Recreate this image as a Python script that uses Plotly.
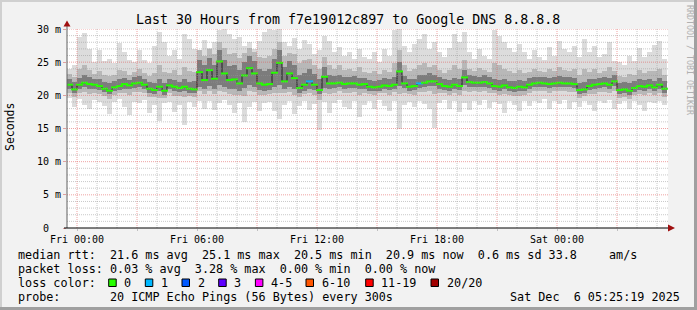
import plotly.graph_objects as go
import pandas as pd

# ---------------- data (ms), 15-minute bins starting Thu 23:30 ----------------
median = [
    21.6, 20.9, 21.6, 21.9, 21.7, 21.6, 21.4, 21.0, 20.7, 21.2,
    21.4, 21.7, 21.5, 21.8, 21.9, 21.6, 21.0, 20.8, 21.3, 20.7,
    21.5, 21.3, 21.1, 21.3, 21.0, 20.9, 23.5, 22.3, 23.8, 22.5,
    25.1, 23.3, 22.3, 22.4, 21.8, 23.0, 24.1, 23.3, 21.8, 21.6,
    21.7, 23.4, 24.9, 22.1, 23.3, 22.6, 21.1, 21.6, 22.1, 21.6,
    20.8, 22.8, 21.8, 21.8, 21.9, 21.7, 21.8, 21.8, 21.6, 21.7,
    21.3, 21.2, 21.3, 21.5, 21.4, 21.6, 23.6, 21.8, 21.3, 21.4,
    21.8, 21.9, 22.1, 22.1, 21.7, 21.4, 21.3, 21.6, 21.4, 22.7,
    22.0, 21.9, 21.9, 22.0, 21.8, 21.4, 21.3, 21.5, 21.2, 21.1,
    21.3, 21.2, 21.6, 21.8, 21.9, 21.8, 21.7, 21.8, 21.9, 21.8,
    21.8, 21.7, 20.8, 20.9, 21.4, 21.6, 21.7, 21.8, 21.6, 22.1,
    20.8, 20.9, 20.7, 21.1, 21.4, 21.3, 21.5, 21.2, 21.6, 21.0,
]
ping_max = [
    24.0, 24.5, 28.8, 29.4, 27.0, 25.0, 26.8, 25.2, 25.5, 24.8,
    27.9, 26.5, 25.3, 25.0, 26.8, 25.3, 24.8, 27.5, 29.6, 28.0,
    26.0, 26.8, 25.5, 29.3, 28.5, 27.0, 26.8, 28.3, 27.2, 28.0,
    29.8, 30.0, 29.2, 28.5, 28.8, 27.4, 28.0, 27.0, 28.2, 29.5,
    30.0, 29.8, 30.0, 28.0, 27.5, 28.6, 27.0, 28.3, 27.8, 26.2,
    26.8, 29.0, 28.2, 26.5, 27.3, 26.0, 26.6, 25.5, 27.0, 25.8,
    25.5, 26.5, 25.0, 27.0, 26.0, 29.9, 30.0, 27.5, 26.5, 27.8,
    28.5, 29.3, 27.0, 28.0, 26.5, 25.8, 27.2, 29.3, 28.0, 29.6,
    26.5, 25.5, 27.0, 26.0, 25.5, 29.8, 29.0, 28.0, 27.2, 26.5,
    27.8, 26.5, 25.5, 26.8, 25.8, 25.3, 27.3, 26.0, 28.2, 27.0,
    26.5, 27.5, 25.8, 28.5, 26.6, 27.5, 25.8, 26.2, 28.0, 25.2,
    25.0, 24.6, 26.0, 25.2, 27.2, 25.8, 26.5, 27.6, 28.2, 25.5,
]
ping_p90 = [
    23.2, 22.8, 24.0, 24.6, 23.8, 23.2, 23.6, 23.0, 22.9, 23.1,
    23.8, 23.6, 23.1, 23.5, 24.0, 23.3, 22.9, 23.4, 24.6, 23.5,
    23.4, 23.8, 23.0, 24.2, 23.6, 23.5, 26.8, 26.0, 27.0, 26.2,
    28.0, 27.2, 26.3, 26.4, 25.6, 26.4, 27.2, 26.5, 25.8, 25.6,
    26.0, 27.0, 28.0, 26.0, 26.4, 26.2, 24.8, 25.4, 25.5, 24.6,
    24.0, 25.8, 24.6, 24.0, 24.5, 23.8, 24.0, 23.6, 24.2, 23.5,
    23.3, 23.6, 23.2, 23.8, 23.5, 24.8, 26.8, 24.5, 23.6, 24.0,
    24.6, 24.8, 24.2, 24.5, 23.8, 23.4, 23.8, 24.6, 24.0, 25.4,
    24.0, 23.6, 24.1, 23.8, 23.5, 24.8, 24.5, 24.0, 23.6, 23.4,
    23.8, 23.4, 23.5, 23.9, 23.6, 23.5, 24.0, 23.6, 24.3, 23.8,
    23.7, 24.0, 23.0, 24.0, 23.5, 23.9, 23.4, 23.6, 24.2, 23.6,
    22.9, 22.8, 23.2, 23.1, 23.8, 23.3, 23.6, 23.7, 24.0, 23.0,
]
ping_q3 = [
    22.4, 22.0, 22.6, 23.0, 22.7, 22.4, 22.5, 22.0, 21.8, 22.2,
    22.5, 22.6, 22.3, 22.8, 22.9, 22.4, 22.0, 21.8, 22.4, 21.9,
    22.4, 22.3, 22.0, 22.5, 22.0, 22.2, 25.4, 24.5, 25.6, 24.6,
    26.8, 25.3, 24.4, 24.6, 23.8, 25.0, 26.0, 25.2, 24.0, 23.6,
    23.9, 25.5, 26.8, 24.3, 25.2, 24.5, 23.0, 23.4, 23.9, 23.2,
    22.5, 24.2, 23.0, 22.9, 23.1, 22.8, 22.7, 22.9, 22.6, 22.6,
    22.3, 22.2, 22.3, 22.6, 22.5, 22.8, 25.0, 22.9, 22.4, 22.5,
    23.0, 23.1, 23.3, 23.0, 22.8, 22.4, 22.3, 22.6, 22.5, 23.8,
    23.0, 22.9, 22.8, 23.0, 22.7, 22.4, 22.3, 22.5, 22.2, 22.1,
    22.3, 22.2, 22.6, 22.7, 22.8, 22.7, 22.6, 22.7, 22.9, 22.7,
    22.7, 22.6, 21.9, 22.0, 22.4, 22.5, 22.6, 22.7, 22.6, 23.0,
    21.9, 22.0, 21.8, 22.2, 22.4, 22.3, 22.5, 22.2, 22.6, 22.1,
]
ping_q1 = [
    21.0, 20.4, 20.9, 21.2, 21.0, 21.0, 20.8, 20.5, 20.2, 20.6,
    20.8, 21.0, 20.9, 21.1, 21.2, 21.0, 20.4, 20.2, 20.6, 20.1,
    20.9, 20.7, 20.5, 20.6, 20.4, 20.4, 21.3, 20.9, 21.4, 21.0,
    21.6, 21.2, 20.9, 21.0, 20.7, 21.1, 21.5, 21.2, 20.8, 20.7,
    20.8, 21.3, 21.6, 21.0, 21.2, 21.0, 20.4, 20.7, 21.0, 20.8,
    20.2, 21.1, 21.0, 21.1, 21.2, 21.0, 21.1, 21.1, 20.9, 21.0,
    20.7, 20.6, 20.7, 20.9, 20.8, 21.0, 21.4, 21.1, 20.7, 20.8,
    21.1, 21.2, 21.4, 21.4, 21.0, 20.8, 20.7, 20.9, 20.8, 21.5,
    21.3, 21.2, 21.2, 21.3, 21.1, 20.8, 20.7, 20.9, 20.6, 20.5,
    20.7, 20.6, 21.0, 21.2, 21.3, 21.2, 21.1, 21.2, 21.3, 21.2,
    21.2, 21.1, 20.2, 20.3, 20.8, 21.0, 21.1, 21.2, 21.0, 21.4,
    20.2, 20.3, 20.1, 20.5, 20.8, 20.7, 20.9, 20.6, 21.0, 20.4,
]
ping_p10 = [
    20.4, 19.8, 20.3, 20.5, 20.2, 20.4, 20.2, 19.9, 19.5, 20.1,
    20.3, 20.3, 20.0, 20.5, 20.5, 20.4, 19.8, 19.7, 19.6, 19.6,
    20.3, 19.9, 19.9, 19.7, 19.9, 19.8, 20.6, 20.2, 20.7, 20.2,
    20.7, 20.5, 20.2, 20.1, 20.0, 19.9, 20.6, 20.5, 20.0, 20.1,
    20.2, 20.4, 20.3, 20.3, 20.5, 20.1, 19.8, 20.2, 20.3, 20.1,
    19.3, 20.4, 20.2, 20.4, 20.6, 20.3, 20.3, 20.5, 20.0, 20.3,
    20.2, 20.0, 20.3, 20.3, 20.1, 20.5, 20.2, 20.4, 20.2, 20.1,
    20.5, 20.5, 20.6, 20.2, 20.4, 20.3, 20.0, 20.4, 20.1, 20.6,
    20.5, 20.6, 20.5, 20.7, 20.4, 20.3, 20.1, 20.2, 20.1, 19.9,
    19.9, 20.1, 20.4, 20.6, 20.6, 20.7, 20.4, 20.6, 20.6, 20.7,
    20.5, 20.5, 19.6, 19.9, 20.2, 20.2, 20.5, 20.5, 20.4, 20.6,
    19.6, 19.8, 19.5, 20.0, 20.2, 20.0, 20.3, 20.0, 20.4, 19.8,
]
ping_min = [
    19.6, 18.3, 19.4, 18.6, 17.9, 19.3, 19.0, 18.4, 17.2, 19.0,
    19.4, 18.2, 17.0, 19.0, 18.8, 19.3, 17.4, 18.5, 16.2, 18.9,
    19.0, 17.5, 18.6, 15.5, 19.0, 18.2, 19.2, 18.0, 19.1, 17.8,
    18.9, 19.3, 18.5, 17.3, 18.9, 16.0, 18.2, 19.0, 17.7, 18.9,
    19.0, 17.6, 16.5, 18.6, 19.1, 17.2, 18.4, 19.2, 17.8, 18.7,
    14.8, 19.0, 17.4, 18.8, 19.3, 18.2, 17.9, 19.2, 16.8, 18.6,
    19.1, 18.0, 19.3, 18.4, 17.6, 19.2, 14.9, 18.6, 19.0, 18.3,
    19.2, 18.7, 17.9, 15.1, 18.8, 19.3, 18.0, 19.1, 17.5, 18.9,
    17.8, 19.2, 18.6, 19.3, 18.1, 19.0, 18.7, 17.4, 19.2, 18.5,
    17.6, 19.1, 18.4, 19.2, 18.8, 19.4, 18.0, 19.1, 18.7, 19.3,
    17.9, 19.0, 18.3, 19.2, 18.6, 17.6, 19.1, 18.8, 19.3, 18.0,
    18.7, 19.1, 17.9, 19.2, 18.5, 17.6, 19.0, 18.8, 19.2, 18.6,
]
loss = [
    0, 0, 0, 0, 0, 0, 0, 0, 0, 0,
    0, 0, 0, 0, 0, 0, 0, 0, 0, 0,
    0, 0, 0, 0, 0, 0, 0, 0, 0, 0,
    0, 0, 0, 0, 0, 0, 0, 0, 0, 0,
    0, 0, 0, 0, 0, 0, 0, 0, 1, 0,
    0, 0, 0, 0, 0, 0, 0, 0, 0, 0,
    0, 0, 0, 0, 0, 0, 0, 0, 0, 0,
    1, 0, 0, 0, 0, 0, 0, 0, 0, 0,
    0, 0, 0, 0, 0, 0, 0, 0, 0, 0,
    0, 0, 0, 0, 0, 0, 0, 0, 0, 0,
    0, 0, 0, 0, 0, 0, 0, 0, 0, 0,
    0, 0, 0, 0, 0, 0, 0, 0, 0, 0,
]

loss_labels = ["0", "1", "2", "3", "4-5", "6-10", "11-19", "20/20"]
loss_colors = ["#26ff00", "#00b8ff", "#0059ff", "#5e00ff", "#ff00ff", "#ff5500", "#ff0000", "#a10000"]

tick_vals = ["2025-12-05 00:00", "2025-12-05 03:00", "2025-12-05 06:00", "2025-12-05 09:00",
             "2025-12-05 12:00", "2025-12-05 15:00", "2025-12-05 18:00", "2025-12-05 21:00",
             "2025-12-06 00:00", "2025-12-06 03:00"]
tick_text = ["Fri 00:00", "", "Fri 06:00", "", "Fri 12:00", "", "Fri 18:00", "", "Sat 00:00", ""]
y_vals = [0, 5, 10, 15, 20, 25, 30]
y_text = ["0\u00a0\u00a0", "5 m", "10 m", "15 m", "20 m", "25 m", "30 m"]

title = "Last 30 Hours from f7e19012c897 to Google DNS 8.8.8.8"
row1 = "median rtt:  21.6 ms avg  25.1 ms max  20.5 ms min  20.9 ms now  0.6 ms sd 33.8"
row1_unit = "am/s"
row2 = "packet loss: 0.03 % avg  3.28 % max  0.00 % min  0.00 % now"
row3 = "loss color:"
row4 = "probe:       20 ICMP Echo Pings (56 Bytes) every 300s"
stamp = "Sat Dec  6 05:25:19 2025"

# ---------------- figure ----------------
W, H = 697, 310
L, R, T, B = 67, 668, 29, 228
PW, PH = R - L, B - T
X0, X1 = "2025-12-04 23:30", "2025-12-06 05:33"
MONO = "DejaVu Sans Mono"

times = pd.date_range("2025-12-04 23:37:30", periods=len(median), freq="15min")
bin_ms = 15 * 60 * 1000


def px(x):
    return (x - L) / PW


def py(y):
    return (B - y) / PH


def nb(s):
    return s.replace(" ", "\u00a0")


fig = go.Figure()
for lo, hi, col in [(ping_min, ping_max, "#dcdcdc"),
                    (ping_p10, ping_p90, "#b8b8b8"),
                    (ping_q1, ping_q3, "#7c7c7c")]:
    fig.add_trace(go.Bar(x=times, y=[h - l for h, l in zip(hi, lo)], base=lo,
                         width=bin_ms, marker=dict(color=col, line=dict(width=0)),
                         hoverinfo="skip"))
fig.add_trace(go.Scatter(x=times, y=median, mode="lines",
                         line=dict(color="#202020", width=1, shape="hvh"), hoverinfo="skip"))
fig.add_trace(go.Scatter(x=times, y=median, mode="markers",
                         marker=dict(symbol="line-ew", size=5,
                                     line=dict(width=2, color=[loss_colors[v] for v in loss])),
                         hoverinfo="skip"))

shapes = []
# grid (drawn above the smoke, like rrdtool)
for h in range(0, 30):
    t = pd.Timestamp("2025-12-05 00:00") + pd.Timedelta(hours=h)
    major = (h % 3 == 0)
    shapes.append(dict(type="line", xref="x", yref="paper", x0=t, x1=t, y0=0, y1=1, layer="above",
                       line=dict(color="rgba(225,90,90,0.55)" if major else "rgba(150,150,150,0.5)",
                                 width=1, dash="1px,1px")))
for v in range(1, 31):
    major = (v % 5 == 0)
    shapes.append(dict(type="line", xref="paper", yref="y", x0=0, x1=1, y0=v, y1=v, layer="above",
                       line=dict(color="rgba(225,90,90,0.55)" if major else "rgba(150,150,150,0.5)",
                                 width=1, dash="1px,1px")))
# axes and arrows
shapes.append(dict(type="line", xref="paper", yref="paper", x0=px(67), x1=px(67), y0=py(228), y1=py(24),
                   line=dict(color="#606060", width=1), layer="above"))
shapes.append(dict(type="line", xref="paper", yref="paper", x0=px(64), x1=px(670), y0=py(228), y1=py(228),
                   line=dict(color="#000000", width=1), layer="above"))
shapes.append(dict(type="path", xref="paper", yref="paper",
                   path=f"M {px(63.5)} {py(26.5)} L {px(70.5)} {py(26.5)} L {px(67)} {py(20.5)} Z",
                   fillcolor="#a01010", line=dict(width=0), layer="above"))
shapes.append(dict(type="path", xref="paper", yref="paper",
                   path=f"M {px(668)} {py(224.5)} L {px(668)} {py(231.5)} L {px(675)} {py(228)} Z",
                   fillcolor="#a01010", line=dict(width=0), layer="above"))
# frame
shapes.append(dict(type="rect", xref="paper", yref="paper", x0=px(0), x1=px(697), y0=py(0), y1=py(2),
                   fillcolor="#d0d0d0", line=dict(width=0)))
shapes.append(dict(type="rect", xref="paper", yref="paper", x0=px(0), x1=px(2), y0=py(0), y1=py(310),
                   fillcolor="#d0d0d0", line=dict(width=0)))
shapes.append(dict(type="rect", xref="paper", yref="paper", x0=px(694), x1=px(697), y0=py(0), y1=py(310),
                   fillcolor="#a0a0a0", line=dict(width=0)))
shapes.append(dict(type="rect", xref="paper", yref="paper", x0=px(0), x1=px(697), y0=py(307), y1=py(310),
                   fillcolor="#a0a0a0", line=dict(width=0)))

annotations = []


def ann(text, x, y, size, xanchor="left", color="#000000", angle=0):
    annotations.append(dict(text=nb(text), x=px(x), y=py(y), xref="paper", yref="paper",
                            xanchor=xanchor, yanchor="middle", showarrow=False, textangle=angle,
                            font=dict(family=MONO, size=size, color=color)))


ann(title, 348, 19, 13.3, xanchor="center")
ann("Seconds", 10, 127, 11.5, xanchor="center", angle=-90)
ann("RRDTOOL / TOBI OETIKER", 690, 60, 8.3, xanchor="center", color="#b0b0b0", angle=90)
ann(row1, 15.5, 254.5, 11.76)
ann(row1_unit, 606.5, 254.5, 11.76)
ann(row2, 15.5, 268.5, 11.76)
ann(row3, 15.5, 282.5, 11.76)
ann(row4, 15.5, 296.5, 11.76)
ann(stamp, 681.5, 296.5, 11.76, xanchor="right")

box_x = [108.7, 145.3, 182, 218.7, 255.4, 306, 365.7, 431]
for bx, lab, col in zip(box_x, loss_labels, loss_colors):
    shapes.append(dict(type="rect", xref="paper", yref="paper", x0=px(bx), x1=px(bx + 7.5),
                       y0=py(279), y1=py(286.5), fillcolor=col, line=dict(color="#000000", width=1)))
    ann(lab, bx + 13.5, 282.5, 11.76)

fig.update_layout(
    width=W, height=H,
    margin=dict(l=L, r=W - R, t=T, b=H - B),
    paper_bgcolor="#f2f2f2", plot_bgcolor="#ffffff",
    barmode="overlay", bargap=0, showlegend=False,
    shapes=shapes, annotations=annotations,
    xaxis=dict(type="date", range=[X0, X1], tickmode="array", tickvals=tick_vals, ticktext=tick_text,
               showgrid=False, zeroline=False, showline=False, ticks="outside", ticklen=2,
               tickcolor="#c0c0c0", tickfont=dict(family=MONO, size=10, color="#000000")),
    yaxis=dict(range=[0, 30], tickmode="array", tickvals=y_vals, ticktext=y_text,
               showgrid=False, zeroline=False, showline=False, ticks="outside", ticklen=3,
               tickcolor="#e0a0a0", tickfont=dict(family=MONO, size=10, color="#000000")),
)

fig.write_html("out.html")
